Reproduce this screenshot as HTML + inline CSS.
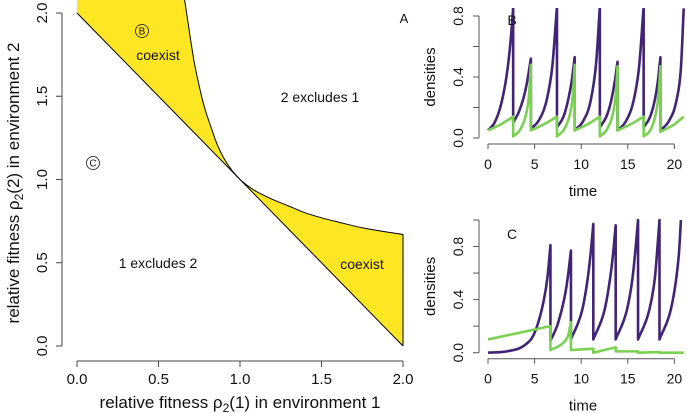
<!DOCTYPE html>
<html><head><meta charset="utf-8"><style>
html,body{margin:0;padding:0;background:#fff;}
svg{display:block;font-family:"Liberation Sans",Arial,sans-serif;}
</style></head><body>
<svg id="fig" width="687" height="413" viewBox="0 0 687 413" xmlns="http://www.w3.org/2000/svg"></svg>
<script>
// ---- Panel A data ----
const diagLine = [[0,2],[2,0]];
const upperCurve = [[0.66,2.08],[0.68,1.95],[0.70,1.82],[0.72,1.70],[0.75,1.56],[0.78,1.44],[0.82,1.32],[0.86,1.21],[0.90,1.13],[0.95,1.055],[1,1]];
const lowerCurve = [[1,1],[1.05,0.96],[1.1,0.928],[1.2,0.88],[1.3,0.84],[1.4,0.80],[1.5,0.77],[1.6,0.745],[1.75,0.71],[1.9,0.685],[2,0.67]];
const aTicks = [0,0.5,1,1.5,2];
const aTickLabels = ["0.0","0.5","1.0","1.5","2.0"];
// ---- Panel B data (t, density) ----
const bPurpleT = [0,0.7,1.4,2.0,2.4,2.7,2.7,3.3,3.8,4.2,4.6,4.6,5.5,6.3,6.9,7.4,7.4,8.1,8.6,9.0,9.3,9.3,10.2,11.0,11.6,12.0,12.0,12.7,13.2,13.6,13.9,13.9,14.8,15.6,16.2,16.7,16.7,17.4,17.9,18.2,18.5,18.5,19.4,20.2,20.7,21];
const bPurpleV = [0.05,0.10,0.22,0.41,0.62,0.85,0.10,0.17,0.26,0.37,0.52,0.06,0.12,0.25,0.47,0.86,0.07,0.14,0.25,0.38,0.53,0.05,0.11,0.24,0.49,0.86,0.07,0.14,0.24,0.37,0.50,0.05,0.11,0.24,0.46,0.86,0.07,0.14,0.25,0.36,0.53,0.05,0.11,0.24,0.46,0.85];
const bGreenT = [0,1.4,2.7,2.7,3.5,4.1,4.4,4.6,4.6,6,7.4,7.4,8.2,8.8,9.1,9.3,9.3,10.7,12.0,12.0,12.8,13.4,13.7,13.9,13.9,15.3,16.7,16.7,17.5,18.0,18.3,18.5,18.5,20,21];
const bGreenV = [0.05,0.09,0.14,0.01,0.06,0.16,0.28,0.48,0.05,0.09,0.14,0.01,0.06,0.16,0.28,0.48,0.05,0.09,0.14,0.01,0.06,0.16,0.28,0.47,0.05,0.09,0.14,0.01,0.06,0.16,0.28,0.47,0.04,0.09,0.14];
// ---- Panel C data ----
const cPurpleT = [0,2,4,5,6,6.4,6.7,6.7,7.5,8.3,8.6,8.9,8.9,10.1,10.7,11.0,11.3,11.3,12.5,13.1,13.4,13.7,13.7,14.9,15.5,15.8,16.1,16.1,17.3,17.9,18.1,18.4,18.4,19.6,20.2,20.5,20.7];
const cPurpleV = [0,0.01,0.06,0.15,0.40,0.58,0.81,0.09,0.22,0.45,0.59,0.77,0.10,0.32,0.56,0.74,0.97,0.10,0.32,0.56,0.73,0.96,0.10,0.32,0.56,0.76,1.0,0.10,0.32,0.56,0.72,1.0,0.10,0.32,0.56,0.76,1.0];
const cGreenT = [0,6.7,6.7,8.0,8.6,8.9,8.9,11.3,11.3,13.7,13.7,16.1,16.1,18.4,18.4,21];
const cGreenV = [0.10,0.20,0.02,0.07,0.13,0.23,0.02,0.03,0.0,0.04,0.01,0.01,0.0,0.005,0.0,0.0];
const bYTicks=[0,0.2,0.4,0.6,0.8]; const bYLabels=["0.0","","0.4","","0.8"];
const cYTicks=[0,0.2,0.4,0.6,0.8,1.0]; const cYLabels=["0.0","","0.4","","0.8",""];
const tTicks=[0,5,10,15,20];

const NS="http://www.w3.org/2000/svg";
const svg=document.getElementById('fig');
function mk(tag,attrs,parent){const e=document.createElementNS(NS,tag);for(const k in attrs)e.setAttribute(k,attrs[k]);(parent||svg).appendChild(e);return e;}
function txt(s,x,y,size,name,extra){const e=mk('text',Object.assign({x:x,y:y,'font-size':size,'text-anchor':'middle',fill:'#111'},extra||{}));e.textContent=s;


return e;}
function monoPath(xs,ys){
 const n=xs.length; if(n<2) return '';
 const d=[],m=new Array(n);
 for(let i=0;i<n-1;i++) d.push((ys[i+1]-ys[i])/(xs[i+1]-xs[i]));
 m[0]=d[0]; m[n-1]=d[n-2];
 for(let i=1;i<n-1;i++){ m[i]=(d[i-1]*d[i]<=0)?0:(d[i-1]+d[i])/2; }
 for(let i=0;i<n-1;i++){ if(d[i]===0){m[i]=m[i+1]=0;continue;} const a=m[i]/d[i],b=m[i+1]/d[i],s=a*a+b*b; if(s>9){const t=3/Math.sqrt(s);m[i]=t*a*d[i];m[i+1]=t*b*d[i];}}
 let p='M'+xs[0]+','+ys[0];
 for(let i=0;i<n-1;i++){const h=(xs[i+1]-xs[i])/3;p+=` C${xs[i]+h},${ys[i]+m[i]*h} ${xs[i+1]-h},${ys[i+1]-m[i+1]*h} ${xs[i+1]},${ys[i+1]}`;}
 return p;
}

// Panel A scales
const ax=v=>77+v*163, ay=v=>346-v*166.5;
const gA=mk('g',{});


const upPath=monoPath(upperCurve.map(p=>ax(p[0])),upperCurve.map(p=>ay(p[1])));
const loPath=monoPath(lowerCurve.map(p=>ax(p[0])),lowerCurve.map(p=>ay(p[1])));
const y1=mk('path',{d:`M${ax(0)},${ay(2)} L${ax(0)},${ay(2.08)} L`+upPath.slice(1)+' Z',fill:'#fde725',stroke:'none'},gA);


const y2=mk('path',{d:loPath+` L${ax(2)},${ay(0)} Z`,fill:'#fde725',stroke:'none'},gA);


const dl=mk('line',{x1:ax(diagLine[0][0]),y1:ay(diagLine[0][1]),x2:ax(diagLine[1][0]),y2:ay(diagLine[1][1]),stroke:'#000','stroke-width':1},gA);


const uc=mk('path',{d:upPath,fill:'none',stroke:'#000','stroke-width':1},gA);


const lc=mk('path',{d:loPath+` L${ax(2)},${ay(0)}`,fill:'none',stroke:'#000','stroke-width':1},gA);


mk('line',{x1:ax(0),y1:361,x2:ax(2),y2:361,stroke:'#444'},gA);
mk('line',{x1:62,y1:ay(0),x2:62,y2:ay(2),stroke:'#444'},gA);
aTicks.forEach((v,i)=>{
 mk('line',{x1:ax(v),y1:361,x2:ax(v),y2:367,stroke:'#444'},gA);
 txt(aTickLabels[i],ax(v),384,15,'x-tick-label');
 mk('line',{x1:56,y1:ay(v),x2:62,y2:ay(v),stroke:'#444'},gA);
 txt(aTickLabels[i],0,0,15,'y-tick-label',{transform:`translate(47,${ay(v)}) rotate(-90)`});
});
const xt=txt('',240,408,17,'x-axis-title');
xt.innerHTML='relative fitness ρ<tspan font-size="12" dy="4">2</tspan><tspan dy="-4">(1) in environment 1</tspan>';
const yt=txt('',0,0,17,'y-axis-title',{transform:'translate(19,183) rotate(-90)'});
yt.innerHTML='relative fitness ρ<tspan font-size="12" dy="4">2</tspan><tspan dy="-4">(2) in environment 2</tspan>';
txt('A',404,23,13,'panel-label-a');
txt('coexist',158,60,14,'label-coexist-upper');
txt('coexist',362,269,14,'label-coexist-lower');
txt('2 excludes 1',320,102,14,'label-2-excludes-1');
txt('1 excludes 2',158,268,14,'label-1-excludes-2');
[['B',142,31],['C',93,163]].forEach(m=>{
 const c=mk('circle',{cx:m[1],cy:m[2],r:6.5,fill:'none',stroke:'#111','stroke-width':0.8});
 
 
 txt(m[0],m[1],m[2]+3.5,10,'marker-label-'+m[0].toLowerCase());
});

function seriesPath(T,V,sx,sy){
 let out='',xs=[],ys=[];
 for(let i=0;i<T.length;i++){
  const X=sx(T[i]),Y=sy(V[i]);
  if(xs.length && T[i]===T[i-1]){ out+=monoPath(xs,ys)+' L'+X+','+Y+' '; xs=[];ys=[]; }
  xs.push(X);ys.push(Y);
 }
 out+=monoPath(xs,ys);
 return out.replace(/ M/g,' L').replace(/^(.*?)M/,'M');
}
function tsPanel(name,y0,yScale,yTicks,yLabels,series,letter,letterY){
 const g=mk('g',{});
 
 
 const sx=t=>488+t*9.32, sy=v=>y0-v*yScale;
 const xAxisY=y0+6;
 const cp=mk('clipPath',{id:'clip-'+name},g);
 mk('rect',{x:480,y:sy(yTicks[yTicks.length-1])-8,width:205,height:yScale*yTicks[yTicks.length-1]+14},cp);
 series.forEach(s=>{
  const p=mk('path',{d:seriesPath(s.t,s.v,sx,sy),fill:'none',stroke:s.color,'stroke-width':2.6,'stroke-linejoin':'round','clip-path':`url(#clip-${name})`},g);
  
  
 });
 mk('line',{x1:sx(0),y1:xAxisY,x2:sx(20),y2:xAxisY,stroke:'#555'},g);
 tTicks.forEach(t=>{mk('line',{x1:sx(t),y1:xAxisY,x2:sx(t),y2:xAxisY+5,stroke:'#555'},g);txt(String(t),sx(t),xAxisY+25,14,'x-tick-label');});
 mk('line',{x1:479,y1:sy(yTicks[0]),x2:479,y2:sy(yTicks[yTicks.length-1]),stroke:'#555'},g);
 yTicks.forEach((v,i)=>{mk('line',{x1:473,y1:sy(v),x2:479,y2:sy(v),stroke:'#555'},g); if(yLabels[i]) txt(yLabels[i],0,0,14,'y-tick-label',{transform:`translate(463,${sy(v)}) rotate(-90)`});});
 txt('time',583,xAxisY+52,15,'x-axis-title');
 txt('densities',0,0,15,'y-axis-title',{transform:`translate(435,${sy(yTicks[yTicks.length-1]/2)}) rotate(-90)`});
 txt(letter,512,letterY,14,'panel-label-'+letter.toLowerCase());
}
tsPanel('panel-b',138,152.5,bYTicks,bYLabels,[
 {t:bPurpleT,v:bPurpleV,color:'#422477',name:'species-1-line'},
 {t:bGreenT,v:bGreenV,color:'#7ad151',name:'species-2-line'}],'B',25);
tsPanel('panel-c',352.7,132.7,cYTicks,cYLabels,[
 {t:cPurpleT,v:cPurpleV,color:'#422477',name:'species-1-line'},
 {t:cGreenT,v:cGreenV,color:'#7ad151',name:'species-2-line'}],'C',239);
</script>
</body></html>
